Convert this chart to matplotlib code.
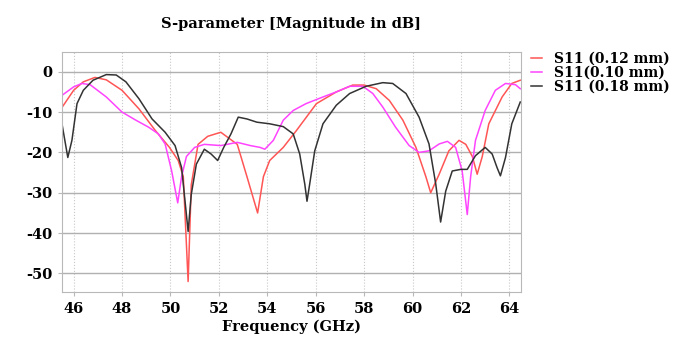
import matplotlib.pyplot as plt

plt.rcParams['font.family'] = ['DejaVu Serif']
plt.rcParams['axes.unicode_minus'] = False

# S11 (0.12 mm)
f_012 = [45.53, 46.0, 46.4, 46.88, 47.35, 48.0, 48.7, 49.38, 49.96, 50.32, 50.53, 50.73,
         50.86, 51.14, 51.54, 52.08, 52.76, 53.16, 53.6, 53.84, 54.1, 54.66, 55.2, 56.03,
         56.85, 57.53, 58.0, 58.5, 59.04, 59.6, 60.14, 60.55, 60.75, 61.1, 61.5, 61.92,
         62.2, 62.47, 62.67, 62.88, 63.15, 63.7, 64.1, 64.45]
s_012 = [-8.75, -4.6, -2.5, -1.4, -2.0, -4.6, -9.2, -14.6, -18.75, -22.0, -26.0, -52.0,
         -28.0, -18.0, -16.0, -15.0, -18.0, -26.0, -35.0, -26.0, -22.0, -18.75, -14.6, -7.9,
         -5.0, -3.3, -3.3, -4.2, -7.1, -12.0, -18.75, -26.0, -30.0, -25.4, -19.6, -17.0,
         -18.0, -21.0, -25.4, -21.0, -12.9, -6.25, -2.9, -2.1]

# S11 (0.10 mm)
f_010 = [45.53, 46.0, 46.34, 46.68, 47.35, 48.0, 48.57, 49.1, 49.5, 49.78, 50.05, 50.3,
         50.46, 50.66, 51.0, 51.4, 52.08, 52.76, 53.3, 53.7, 53.9, 54.25, 54.66, 55.07,
         55.6, 56.3, 56.85, 57.4, 57.95, 58.36, 58.77, 59.3, 59.86, 60.27, 60.68, 61.1,
         61.44, 61.78, 62.05, 62.26, 62.4, 62.6, 63.0, 63.42, 63.84, 64.25, 64.45]
s_010 = [-5.8, -3.75, -2.9, -3.2, -6.25, -10.0, -12.0, -13.75, -15.4, -17.9, -24.6, -32.5,
         -26.0, -21.0, -18.75, -18.0, -18.3, -17.5, -18.3, -18.75, -19.2, -17.0, -12.0, -9.6,
         -7.9, -6.25, -5.0, -3.6, -3.6, -5.4, -8.75, -13.75, -18.3, -20.0, -19.6, -17.9,
         -17.25, -18.75, -24.6, -35.4, -26.0, -17.0, -9.6, -4.6, -2.9, -3.2, -4.2]

# S11 (0.18 mm)
f_018 = [45.53, 45.76, 45.93, 46.14, 46.4, 46.8, 47.35, 47.76, 48.16, 48.7, 49.24, 49.78,
         50.19, 50.46, 50.73, 50.86, 51.07, 51.4, 51.68, 51.95, 52.2, 52.5, 52.8, 53.16,
         53.57, 54.1, 54.66, 55.07, 55.34, 55.55, 55.64, 55.75, 55.96, 56.3, 56.85, 57.4,
         58.08, 58.77, 59.18, 59.73, 60.27, 60.68, 60.96, 61.16, 61.37, 61.64, 61.99, 62.26,
         62.6, 63.0, 63.29, 63.49, 63.63, 63.84, 64.1, 64.45]
s_018 = [-13.3, -21.25, -17.0, -7.9, -4.6, -2.1, -0.7, -0.8, -2.5, -6.7, -11.7, -15.0,
         -18.3, -23.75, -39.6, -30.4, -22.9, -19.2, -20.4, -22.0, -18.75, -15.4, -11.25, -11.7,
         -12.5, -12.9, -13.6, -15.4, -20.4, -27.9, -32.1, -27.9, -19.6, -12.9, -8.3, -5.4,
         -3.6, -2.7, -2.9, -5.4, -11.25, -17.9, -27.9, -37.25, -29.6, -24.6, -24.2, -24.2,
         -20.8, -18.75, -20.4, -23.75, -25.8, -21.25, -12.9, -7.5]

x_ticks = [46, 48, 50, 52, 54, 56, 58, 60, 62, 64]
y_ticks = [0, -10, -20, -30, -40, -50]

fig = plt.figure(figsize=(6.88, 3.37), dpi=100)
ax = fig.add_axes([62 / 688, 1 - 292 / 337, 459 / 688, 240 / 337])

ax.plot(f_012, s_012, color='#ff5555', lw=1.1, label='S11 (0.12 mm)')
ax.plot(f_010, s_010, color='#ff44ff', lw=1.1, label='S11(0.10 mm)')
ax.plot(f_018, s_018, color='#333333', lw=1.1, label='S11 (0.18 mm)')

ax.set_xlim(45.52, 64.48)
ax.set_ylim(-54.6, 4.9)
ax.set_xticks(x_ticks)
ax.set_yticks(y_ticks)
ax.grid(axis='y', color='#b0b0b0', lw=1.0)
ax.grid(axis='x', color='#c8c8c8', lw=0.8, ls=':')
ax.set_axisbelow(True)
for sp in ax.spines.values():
    sp.set_color('#b8b8b8')
ax.tick_params(axis='both', length=3, color='#b8b8b8', labelsize=10.5, pad=4)
for lbl in ax.get_xticklabels() + ax.get_yticklabels():
    lbl.set_fontweight('bold')

ax.set_title('S-parameter [Magnitude in dB]', fontsize=10.5, fontweight='bold', pad=17)
ax.set_xlabel('Frequency (GHz)', fontsize=10.5, fontweight='bold', labelpad=3)

leg = ax.legend(loc='upper left', bbox_to_anchor=(1.0, 1.04), frameon=False,
                prop={'weight': 'bold', 'size': 10}, handlelength=0.8,
                handletextpad=0.9, labelspacing=0.0, borderaxespad=0.3)

fig.savefig('out.png', dpi=100)
